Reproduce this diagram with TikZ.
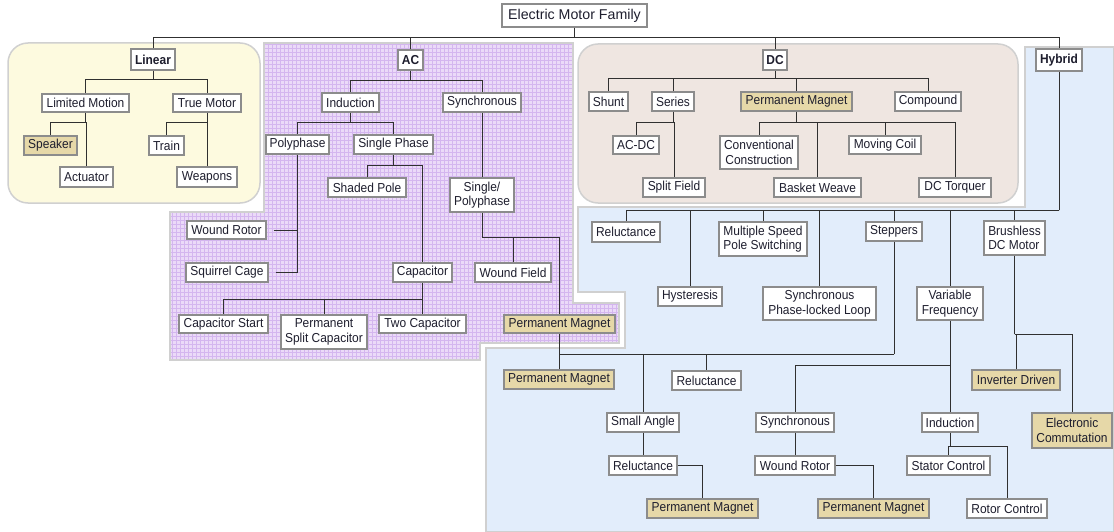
\documentclass[tikz,border=0pt]{standalone}
\usepackage{fontspec}
\setmainfont{Liberation Sans}[FakeStretch=0.92]
\newfontfamily\rootfont{Liberation Sans}
\definecolor{tanfill}{HTML}{E6D8A8}
\definecolor{boxline}{HTML}{8C8C8C}
\definecolor{wirecol}{HTML}{303030}
\definecolor{linfill}{HTML}{FDFADF}
\definecolor{dcfill}{HTML}{EFE6E1}
\definecolor{hyfill}{HTML}{E2EDFB}
\definecolor{acfill}{HTML}{EBDAF8}
\definecolor{acgrid}{HTML}{D4B6EF}
\definecolor{panelline}{HTML}{D0D0D0}
\definecolor{txt}{HTML}{1E1E2E}
\tikzset{
 box/.style={draw=boxline, fill=white, line width=1.1pt, inner sep=0pt, align=center,
   font=\fontsize{13}{14.5}\selectfont, text=txt},
 tanbox/.style={box, fill=tanfill},
 boldbox/.style={box, font=\fontsize{13}{14.5}\selectfont\bfseries},
 rootbox/.style={box, font=\rootfont\fontsize{14.2}{16}\selectfont},
 wire/.style={draw=wirecol, line width=1pt},
 panel/.style={draw=panelline, line width=1.5pt},
}
\newcommand\bx[7]{% name, style, x1, y1, x2, y2, text
 \node[#2, minimum width={(#5)-(#3)}, minimum height={(#6)-(#4)}] (#1) at ({((#3)+(#5))/2},{((#4)+(#6))/2}) {#7};}
\newcommand\tree[3]{%
 \draw[wire] (#1.south) -- (#1.south |- 0,#2);
 \foreach \c in {#3} {\draw[wire] (#1.south |- 0,#2) -| (\c.north);}
}
\begin{document}
\begin{tikzpicture}[x=1pt,y=-1pt]
\useasboundingbox (0,0) rectangle (1114,532);
% panels
\draw[panel, fill=linfill, rounded corners=20pt] (8,43) rectangle (260,203);
\draw[panel, fill=dcfill, rounded corners=20pt] (578,44) rectangle (1018,203);
\draw[panel, fill=hyfill] (1025,47) -- (1114,47) -- (1114,532) -- (486,532) -- (486,348) -- (625,348) -- (625,292) -- (578,292) -- (578,207) -- (1025,207) -- cycle;
\fill[acfill] (264,43) -- (573,43) -- (573,303) -- (619,303) -- (619,343) -- (480,343) -- (480,360) -- (170,360) -- (170,212) -- (264,212) -- cycle;
\begin{scope}
\clip (264,43) -- (573,43) -- (573,303) -- (619,303) -- (619,343) -- (480,343) -- (480,360) -- (170,360) -- (170,212) -- (264,212) -- cycle;
\draw[acgrid, line width=0.5pt, step=4pt] (168,41) grid (622,362);
\end{scope}
\draw[panel] (264,43) -- (573,43) -- (573,303) -- (619,303) -- (619,343) -- (480,343) -- (480,360) -- (170,360) -- (170,212) -- (264,212) -- cycle;
% nodes
\bx{root}{rootbox}{502}{4}{647}{27}{Electric Motor Family}
\bx{linear}{boldbox}{131}{49}{175}{70}{Linear}
\bx{lm}{box}{42}{94}{129}{112}{Limited Motion}
\bx{tm}{box}{173}{94}{241}{112}{True Motor}
\bx{speaker}{tanbox}{24}{136}{77}{155}{Speaker}
\bx{actuator}{box}{60}{167}{113}{187}{Actuator}
\bx{train}{box}{149}{136}{184}{155}{Train}
\bx{weapons}{box}{177}{167}{237}{187}{Weapons}
\bx{ac}{boldbox}{398}{50}{423}{70}{AC}
\bx{ind}{box}{322}{93}{379}{112}{Induction}
\bx{syn}{box}{443}{93}{521}{112}{Synchronous}
\bx{poly}{box}{266}{135}{329}{154}{Polyphase}
\bx{sphase}{box}{354}{135}{433}{154}{Single Phase}
\bx{shaded}{box}{328}{178}{406}{197}{Shaded Pole}
\bx{sp}{box}{450}{178}{514}{212}{Single/\\Polyphase}
\bx{wrotor}{box}{187}{221}{266}{239}{Wound Rotor}
\bx{squirrel}{box}{186}{263}{268}{282}{Squirrel Cage}
\bx{cap}{box}{393}{263}{452}{282}{Capacitor}
\bx{wfield}{box}{475}{263}{551}{282}{Wound Field}
\bx{capstart}{box}{179}{315}{268}{333}{Capacitor Start}
\bx{psc}{box}{281}{315}{367}{349}{Permanent\\Split Capacitor}
\bx{twocap}{box}{379}{315}{466}{333}{Two Capacitor}
\bx{acpm}{tanbox}{504}{315}{615}{333}{Permanent Magnet}
\bx{dc}{boldbox}{763}{50}{787}{70}{DC}
\bx{shunt}{box}{589}{92}{628}{111}{Shunt}
\bx{series}{box}{652}{92}{694}{111}{Series}
\bx{dcpm}{tanbox}{741}{92}{852}{111}{Permanent Magnet}
\bx{compound}{box}{895}{92}{961}{111}{Compound}
\bx{acdc}{box}{613}{136}{659}{154}{AC-DC}
\bx{splitf}{box}{643}{178}{705}{197}{Split Field}
\bx{conv}{box}{720}{136}{798}{169}{Conventional\\Construction}
\bx{basket}{box}{774}{178}{861}{197}{Basket Weave}
\bx{moving}{box}{849}{136}{921}{154}{Moving Coil}
\bx{torquer}{box}{919}{178}{991}{197}{DC Torquer}
\bx{hybrid}{boldbox}{1036}{49}{1082}{71}{Hybrid}
\bx{hrel}{box}{592}{222}{660}{242}{Reluctance}
\bx{hyst}{box}{658}{287}{722}{306}{Hysteresis}
\bx{msps}{box, align=left}{719}{222}{807}{256}{Multiple Speed\\Pole Switching}
\bx{spll}{box}{763}{287}{876}{320}{Synchronous\\Phase-locked Loop}
\bx{steppers}{box}{866}{222}{922}{241}{Steppers}
\bx{vf}{box}{917}{287}{983}{320}{Variable\\Frequency}
\bx{bdc}{box, align=left}{984}{221}{1045}{255}{Brushless\\DC Motor}
\bx{hpm1}{tanbox}{504}{370}{614}{389}{Permanent Magnet}
\bx{hrel2}{box}{672}{371}{741}{390}{Reluctance}
\bx{invd}{tanbox}{972}{370}{1060}{390}{Inverter Driven}
\bx{small}{box}{607}{413}{679}{432}{Small Angle}
\bx{hsyn}{box}{756}{413}{834}{432}{Synchronous}
\bx{hind}{box}{922}{413}{978}{432}{Induction}
\bx{ec}{tanbox}{1032}{413}{1112}{448}{Electronic\\Commutation}
\bx{hrel3}{box}{609}{456}{677}{475}{Reluctance}
\bx{hwr}{box}{755}{456}{835}{475}{Wound Rotor}
\bx{stator}{box}{907}{456}{990}{475}{Stator Control}
\bx{pm3}{tanbox}{647}{499}{758}{518}{Permanent Magnet}
\bx{pm4}{tanbox}{818}{499}{929}{518}{Permanent Magnet}
\bx{rotor}{box}{967}{499}{1047}{518}{Rotor Control}
% connectors
\draw[wire] (linear.north) |- (hybrid.north |- 0,38) -- (hybrid.north);
\draw[wire] (root.south) -- (root.south |- 0,38);
\draw[wire] (ac.north) -- (ac.north |- 0,38);
\draw[wire] (dc.north) -- (dc.north |- 0,38);
\tree{linear}{80}{lm,tm}
\tree{lm}{123}{speaker,actuator}
\tree{tm}{123}{train,weapons}
\tree{ac}{81}{ind,syn}
\tree{ind}{123}{poly,sphase}
\tree{sphase}{166}{shaded,cap}
\draw[wire] (poly.south) -- (poly.south |- squirrel.east);
\draw[wire] ([xshift=7pt]wrotor.east) -- (poly.south |- wrotor.east);
\draw[wire] ([xshift=7pt]squirrel.east) -- (poly.south |- squirrel.east);
\tree{cap}{299}{capstart,psc,twocap}
\draw[wire] (syn.south) -- (syn.south |- sp.north);
\tree{sp}{237}{wfield,acpm}
\draw[wire] (acpm.south) -- (acpm.south |- hpm1.north);
\tree{dc}{79}{shunt,series,dcpm,compound}
\tree{series}{123}{acdc,splitf}
\tree{dcpm}{123}{conv,basket,moving,torquer}
\tree{hybrid}{210}{hrel,hyst,msps,spll,steppers,vf,bdc}
\tree{steppers}{354}{hpm1,small,hrel2}
\draw[wire] (small.south) -- (small.south |- hrel3.north);
\draw[wire] (hrel3.east) -| (pm3.north);
\tree{vf}{365}{hsyn,hind}
\draw[wire] (hsyn.south) -- (hsyn.south |- hwr.north);
\draw[wire] (hwr.east) -| (pm4.north);
\tree{hind}{446}{stator,rotor}
\tree{bdc}{334}{invd,ec}
\end{tikzpicture}
\end{document}
